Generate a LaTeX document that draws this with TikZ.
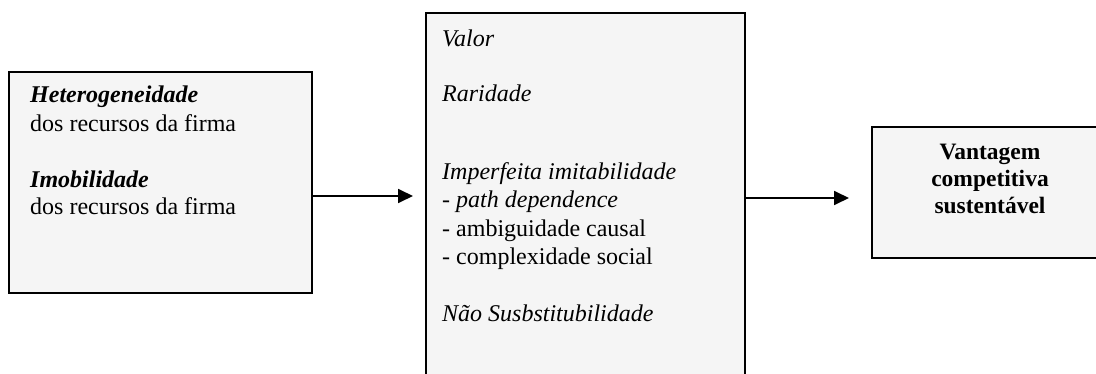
\documentclass[tikz,border=0pt]{standalone}
\usepackage{fontspec}
\setmainfont{Liberation Serif}
\usetikzlibrary{arrows.meta}
\begin{document}
\begin{tikzpicture}[x=1pt,y=-1pt,
  box/.style={draw=black,line width=1.8pt,fill=black!4,inner sep=0pt},
  txt/.style={anchor=base west,inner sep=0pt,font=\fontsize{24}{28}\selectfont},
  ctxt/.style={anchor=base,inner sep=0pt,font=\fontsize{23.5}{28}\selectfont\bfseries},
  arr/.style={line width=1.8pt,-{Triangle[length=15pt,width=14pt]}}]
\useasboundingbox (0,0) rectangle (1096,374);
\node[box,minimum width=303pt,minimum height=221pt] (b1) at (160.5,182.5) {};
\node[box,minimum width=319pt,minimum height=380pt] (b2) at (585.5,203) {};
\node[box,minimum width=236pt,minimum height=131pt] (b3) at (990,192.5) {};
% box 1 text
\node[txt] (t1) at (30,103) {\bfseries\itshape Heterogeneidade};
\node[txt] (t2) at (30,132) {dos recursos da firma};
\node[txt] (t3) at (30,188) {\bfseries\itshape Imobilidade};
\node[txt] (t4) at (30,215) {dos recursos da firma};
% box 2 text
\node[txt] (v1) at (442,47) {\itshape Valor};
\node[txt] (v2) at (442,102) {\itshape Raridade};
\node[txt] (v3) at (442,180) {\itshape Imperfeita imitabilidade};
\node[txt] (v4) at (442,208) {- \itshape path dependence};
\node[txt] (v5) at (442,237) {- ambiguidade causal};
\node[txt] (v6) at (442,265) {- complexidade social};
\node[txt] (v7) at (442,322) {\itshape Não Susbstitubilidade};
% box 3 text
\node[ctxt] (w1) at (990,160) {Vantagem};
\node[ctxt] (w2) at (990,187) {competitiva};
\node[ctxt] (w3) at (990,214) {sustentável};
% arrows
\coordinate (a1) at (413,196);
\coordinate (a2) at (849,198);
\draw[arr] (b1.east |- a1) -- (a1);
\draw[arr] (b2.east |- a2) -- (a2);
\end{tikzpicture}
\end{document}
